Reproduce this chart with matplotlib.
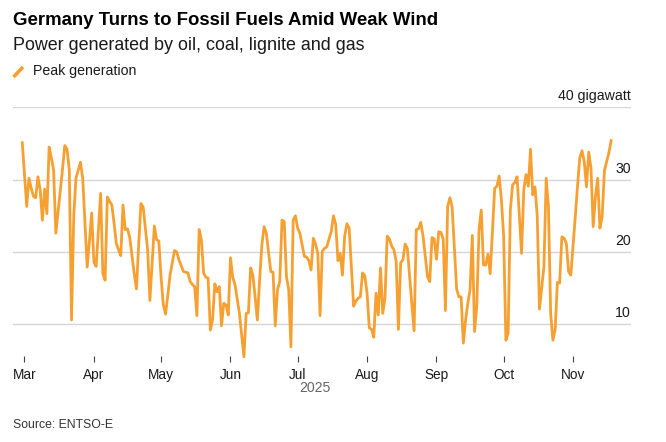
import numpy as np
import pandas as pd
import matplotlib
matplotlib.use("Agg")
import matplotlib.pyplot as plt
import matplotlib.dates as mdates
from matplotlib.lines import Line2D

plt.rcParams['font.family'] = ['Liberation Sans', 'DejaVu Sans']

# daily peak generation (GW), starting 28 Feb 2025
start_date = '2025-02-28'
peak_gw = [
    35.1, 30.7, 26.3, 30.2, 28.8, 27.7, 27.5, 30.4, 28.6, 24.4, 28.7,
    25.3, 34.5, 33.0, 31.3, 22.6, 25.5, 28.5, 31.5, 34.7, 34.2,
    31.4, 10.6, 25.0, 30.2, 31.3, 32.4, 30.2, 24.0, 17.9, 21.5,
    25.4, 18.6, 18.0, 23.0, 28.1, 17.0, 16.1, 27.6, 27.0, 26.5,
    24.0, 21.2, 20.3, 19.5, 26.5, 23.1, 23.2, 22.0, 19.5, 17.0,
    14.9, 21.0, 26.7, 26.2, 23.2, 20.3, 13.3, 18.5, 23.6, 21.7,
    21.5, 16.5, 12.7, 11.4, 14.0, 16.8, 18.5, 20.2, 20.0, 18.9,
    18.1, 17.3, 17.2, 17.1, 15.9, 15.5, 15.2, 11.2, 23.1, 21.7,
    17.1, 16.5, 16.4, 9.2, 10.6, 15.6, 14.5, 15.2, 9.8, 12.9,
    12.7, 11.3, 19.2, 16.5, 15.5, 13.5, 11.5, 8.5, 5.5, 11.5,
    11.6, 17.8, 16.8, 13.8, 10.6, 16.0, 20.9, 23.5, 22.6, 20.0,
    17.3, 17.2, 9.8, 14.8, 15.9, 24.4, 24.2, 16.6, 14.8, 6.9,
    24.4, 25.0, 23.3, 22.6, 21.0, 19.4, 19.3, 18.8, 17.5, 21.9,
    21.1, 19.8, 11.2, 20.1, 20.5, 20.7, 21.8, 22.8, 25.0, 23.8,
    18.8, 19.8, 16.8, 22.2, 23.9, 23.3, 18.0, 12.5, 13.2, 13.6,
    13.8, 17.1, 16.7, 14.3, 9.5, 9.3, 8.2, 14.3, 11.3, 17.8,
    11.5, 13.6, 22.2, 21.8, 20.8, 20.3, 18.7, 9.3, 18.5, 18.9,
    21.1, 20.5, 16.6, 12.8, 9.1, 23.1, 23.2, 24.1, 22.2, 19.4,
    16.6, 15.9, 22.0, 21.8, 19.0, 22.8, 22.7, 21.8, 11.9, 26.3,
    27.5, 26.2, 20.5, 14.9, 13.8, 13.8, 7.4, 10.6, 12.9, 14.8,
    22.3, 9.0, 12.5, 23.1, 25.8, 18.2, 18.2, 19.7, 17.0, 23.0,
    28.8, 29.1, 30.5, 27.2, 22.2, 7.8, 8.8, 25.8, 29.3, 29.6,
    30.4, 25.0, 19.8, 28.6, 30.7, 29.1, 34.2, 27.9, 29.0, 25.0,
    12.1, 15.0, 18.0, 30.2, 26.3, 11.5, 7.8, 9.2, 15.8, 15.7,
    22.1, 21.9, 21.2, 17.3, 16.8, 20.8, 24.9, 29.1, 33.0, 34.0,
    32.5, 29.0, 33.8, 31.6, 23.5, 27.7, 30.2, 23.3, 24.9, 31.2,
    32.5, 33.7, 35.4,
]
dates = pd.date_range(start_date, periods=len(peak_gw), freq='D')

y_ticks = [10, 20, 30, 40]
y_labels = ['10', '20', '30', '40 gigawatt']
month_ticks = pd.date_range('2025-03-01', '2025-11-01', freq='MS')

line_color = '#F7A032'
text_dark = '#1a1a1a'
grid_color = '#d6d6d6'

W, H = 666, 442
fig = plt.figure(figsize=(W / 100, H / 100), dpi=100)
ax = fig.add_axes([13 / W, 1 - 356 / H, 618 / W, (356 - 107.3) / H])

ax.plot(dates, peak_gw, color=line_color, lw=2.0, clip_on=False,
        solid_joinstyle='round', zorder=3)

mar1 = mdates.date2num(pd.Timestamp('2025-03-01'))
ax.set_xlim(mar1 - 11.5 / 2.239, mar1 + 606.5 / 2.239)
ax.set_ylim(5.62, 40)

for s in ax.spines.values():
    s.set_visible(False)
for yv in y_ticks:
    ax.axhline(yv, color=grid_color, lw=1.0, zorder=1)

ax.set_yticks([])
ax.set_xticks(month_ticks)
ax.set_xticklabels([d.strftime('%b') for d in month_ticks])
ax.tick_params(axis='x', length=4.3, width=0.8, color='#444444', pad=4,
               labelsize=9.8, labelcolor=text_dark)

for yv, lab in zip(y_ticks, y_labels):
    ax.annotate(lab, xy=(1.0, yv), xycoords=('axes fraction', 'data'),
                xytext=(0, 8), textcoords='offset points',
                ha='right', va='center', fontsize=10.2, color=text_dark)

ax.text(0.489, -0.128, '2025', transform=ax.transAxes, ha='center',
        va='center', fontsize=10.2, color='#666666')

fig.text(13 / W, 1 - 25 / H, 'Germany Turns to Fossil Fuels Amid Weak Wind',
         fontsize=13.4, fontweight='bold', color='#000000', va='baseline')
fig.text(13 / W, 1 - 50.5 / H, 'Power generated by oil, coal, lignite and gas',
         fontsize=12.9, color=text_dark, va='baseline')
fig.add_artist(Line2D([13.5 / W, 23 / W], [1 - 77 / H, 1 - 67 / H],
                      color=line_color, lw=2.6, solid_capstyle='butt'))
fig.text(33 / W, 1 - 75.5 / H, 'Peak generation', fontsize=10.2,
         color=text_dark, va='baseline')
fig.text(13 / W, 1 - 428.5 / H, 'Source: ENTSO-E', fontsize=8.8,
         color='#333333', va='baseline')

fig.savefig('out.png', dpi=100, facecolor='white')
